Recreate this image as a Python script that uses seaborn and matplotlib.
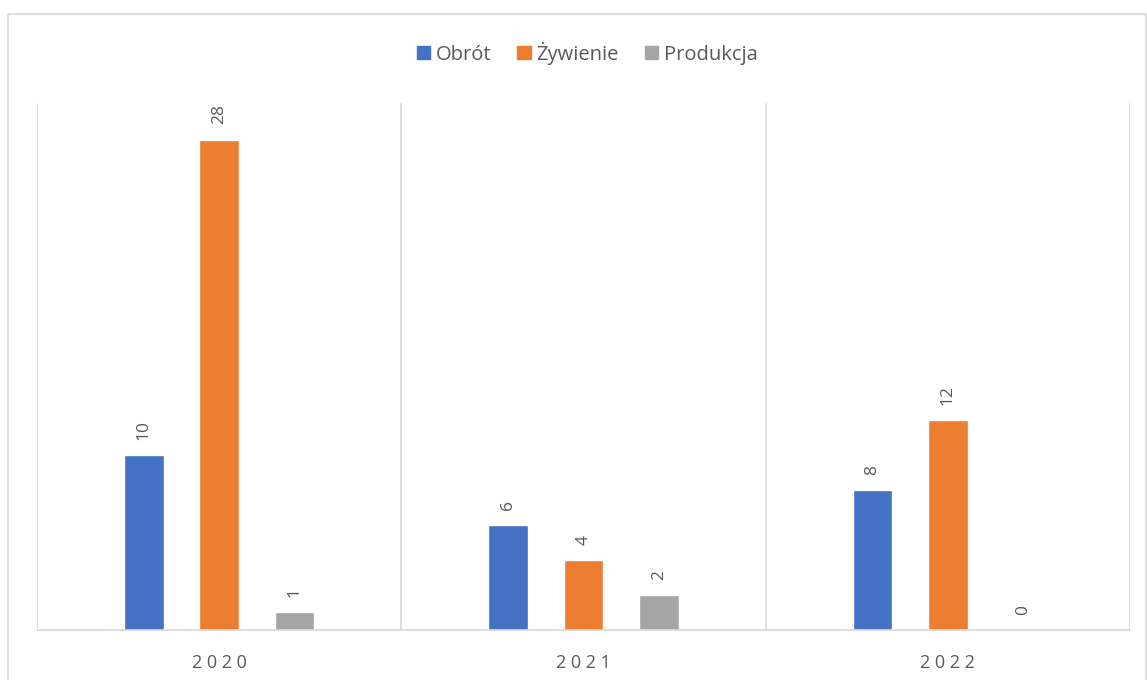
import matplotlib
matplotlib.use("Agg")
import matplotlib.pyplot as plt
import seaborn as sns
import pandas as pd
from matplotlib.patches import Rectangle

years = ["2020", "2021", "2022"]
series = ["Obrót", "Żywienie", "Produkcja"]
obrot = [10, 6, 8]
zywienie = [28, 4, 12]
produkcja = [1, 2, 0]
colors = ["#4472C4", "#ED7D31", "#A5A5A5"]

df = pd.DataFrame({
    "year": years * 3,
    "series": [series[0]] * 3 + [series[1]] * 3 + [series[2]] * 3,
    "value": obrot + zywienie + produkcja,
})

sns.set_theme(style="white")
plt.rcParams["font.family"] = ["Open Sans", "DejaVu Sans"]

fig = plt.figure(figsize=(11.47, 6.8), dpi=100)
ax = fig.add_axes([37 / 1147, 1 - 630 / 680, (1130 - 37) / 1147, (630 - 103) / 680])

sns.barplot(data=df, x="year", y="value", hue="series", order=years,
            hue_order=series, palette=colors, width=0.62, gap=0.47,
            saturation=1, ax=ax, legend=True, errorbar=None)

for cont in ax.containers:
    ax.bar_label(cont, labels=[f"{v:g}" for v in cont.datavalues],
                 rotation=90, padding=11, color="#595959", fontsize=12.5)

ax.set_ylim(0, 30.1)
ax.set_xlim(-0.5, 2.5)
ax.set_yticks([])
ax.set_xlabel("")
ax.set_ylabel("")
for s in ["top", "right", "left"]:
    ax.spines[s].set_visible(False)
ax.spines["bottom"].set_color("#D9D9D9")
ax.spines["bottom"].set_linewidth(1.2)
for xb in [-0.5, 0.5, 1.5, 2.5]:
    ax.axvline(xb, color="#D9D9D9", lw=1.2, zorder=0)
ax.tick_params(axis="x", length=0, pad=17, colors="#595959", labelsize=13)
ax.set_xticks(range(len(years)))
ax.set_xticklabels([" ".join(y) for y in years], color="#595959", fontsize=13)

ax.get_legend().remove()
handles = [Rectangle((0, 0), 1, 1, color=c) for c in colors]
leg = fig.legend(handles, series, loc="center", bbox_to_anchor=(0.512, 1 - 53 / 680),
                 ncol=3, frameon=False, fontsize=14.5, handlelength=0.65,
                 handleheight=0.65, handletextpad=0.3, columnspacing=1.3)
for t in leg.get_texts():
    t.set_color("#595959")

fig.patches.append(Rectangle((8 / 1147, -0.01), (1146 - 8) / 1147, 1 - 14 / 680 + 0.01,
                             transform=fig.transFigure, fill=False,
                             edgecolor="#D9D9D9", lw=1.2))

fig.savefig("out.png", dpi=100)
